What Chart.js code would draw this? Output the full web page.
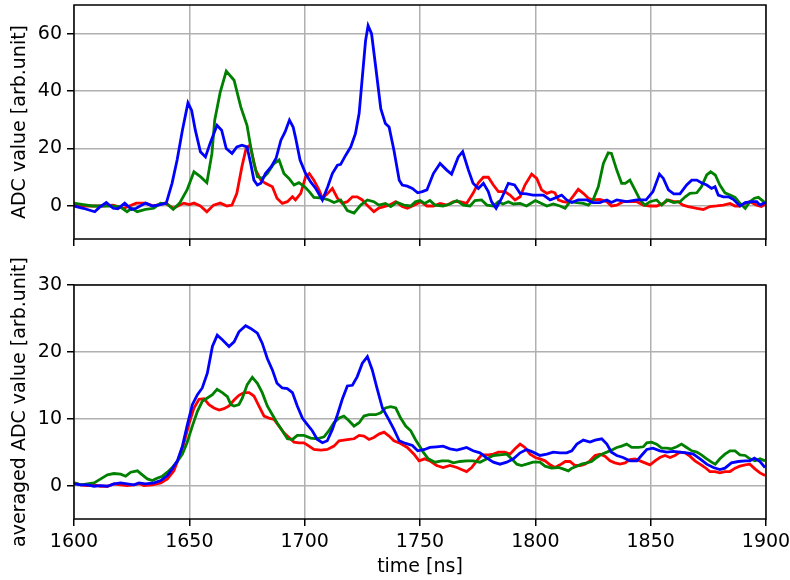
<!DOCTYPE html>
<html>
<head>
<meta charset="utf-8">
<script src="https://cdn.jsdelivr.net/npm/chart.js@4/dist/chart.umd.min.js"></script>
<style>
  html, body { margin: 0; padding: 0; background: #fff; }
  #wrap { position: relative; width: 790px; height: 580px; }
  #rawCanvas { position: absolute; left: 0; top: 0; }
  #avgCanvas { position: absolute; left: 0; top: 250px; }
</style>
</head>
<body>
<div id="wrap">
  <canvas id="rawCanvas" width="790" height="250"></canvas>
  <canvas id="avgCanvas" width="790" height="330"></canvas>
</div>
<script>
// ---- data: [time (ns), ADC value] ----
const rawRed = [[1600,1],[1602,0],[1606,0],[1612,0],[1617,0.3],[1621.6,-0.8],[1627,1],[1631,1],[1634.6,0],[1639.6,1],[1643,-0.8],[1647.6,1],[1650,0.5],[1652,1],[1654.8,0],[1657.6,-2],[1660.5,0.3],[1663.4,1],[1666.3,0],[1668.5,0.3],[1670.6,4.4],[1672.8,13.7],[1674.6,20],[1676.3,21.2],[1678.8,12.5],[1681,9],[1683,7.9],[1686,6.7],[1688,2.7],[1690.3,0.9],[1692.5,1.5],[1694.7,3.2],[1696,2.1],[1698.3,4.4],[1700.4,10.2],[1702,11.3],[1704,9],[1706.2,5.6],[1707.7,2.7],[1710,4.4],[1712,6.1],[1714.2,2.7],[1716.3,0.9],[1718.5,1.5],[1720.7,3.2],[1722.8,3.2],[1725,2.1],[1727,0.3],[1730,-2],[1732,-0.8],[1734.4,-0.2],[1736.6,0.3],[1739.5,1.5],[1742.3,-0.2],[1744.5,-0.8],[1747.4,0.3],[1750.3,1.5],[1753,0],[1755.8,0],[1758.7,0.9],[1761.6,0.3],[1764.5,1.5],[1767.3,1.5],[1770.2,0.9],[1773,4.4],[1775.3,8.1],[1777.5,10],[1779.6,10],[1781.8,7.3],[1784,5],[1786.8,5],[1789,3.8],[1791.2,2.1],[1793.4,3.2],[1795.5,7.3],[1798.4,11.1],[1800.6,9.6],[1802.7,5.6],[1805,4.4],[1807,5],[1808.5,4.6],[1810,2.1],[1812,1.5],[1814.3,1.2],[1816.5,3.5],[1818.6,5.8],[1820.8,4.4],[1823,2.7],[1825,2.1],[1828,2.3],[1831,1.5],[1833,0],[1835.3,0.3],[1838,1.5],[1841,1.5],[1844,1.5],[1846.8,0.3],[1849.7,0],[1852.6,0],[1855.5,0.9],[1857.7,2.1],[1860,1.5],[1862,1.5],[1864,0.3],[1866.3,-0.2],[1870,-0.8],[1872.8,-1.2],[1875.7,-0.2],[1878.6,0],[1881.5,0.3],[1884.4,0.9],[1886.6,0],[1888.7,0],[1891,0.9],[1893,1.5],[1896,0.3],[1898,-0.2],[1900,0.7]];

const rawGreen = [[1600,1],[1604,0.5],[1608,0],[1612,0],[1616,0],[1620,-0.3],[1623,-2],[1625,-0.8],[1627.4,-2],[1631,-1.2],[1634.6,-0.8],[1637.5,1],[1640.4,0.7],[1643,-1.2],[1645.8,1],[1649,5.6],[1652,11.9],[1654.8,10.2],[1657.6,8.1],[1659.8,18.3],[1661,29.9],[1663.4,39.7],[1666,47],[1669.4,43.8],[1672.3,34.5],[1675,28.1],[1676.6,20.6],[1678,14.8],[1679.5,10.2],[1681.6,9.6],[1683.8,11.3],[1686.7,14.8],[1688.9,16],[1691,11.3],[1693.2,9.6],[1695.4,7.3],[1697.5,8.1],[1700,6.7],[1702,5],[1704,3],[1707.7,2.7],[1710.5,2.1],[1712.7,1.2],[1715.6,2.1],[1718.5,-1.6],[1721.4,-2.5],[1724.3,0.3],[1727.2,2.1],[1730,1.5],[1732.2,0.3],[1735,0.9],[1737.3,-0.2],[1740,1.3],[1743,0.3],[1746,0],[1748,1.5],[1750,1.9],[1752,0.9],[1754.3,1.9],[1756.5,0.3],[1760,0],[1763,0.7],[1766,1.9],[1768.8,0.3],[1771.7,0],[1773.8,1.9],[1776.7,2.1],[1779,0.3],[1781.8,0],[1784,1.5],[1786,0.7],[1788.3,1.5],[1790.5,0.7],[1793.4,0.9],[1796.2,0],[1800,1.9],[1802.7,0.9],[1805,0],[1807.8,0.7],[1810.7,0],[1812.9,-0.8],[1815,1.5],[1818,1.2],[1820.8,0.9],[1823,0.3],[1825,2.1],[1827.3,6.7],[1829.5,14.8],[1831.6,18.5],[1833,18.3],[1835.3,12.5],[1837.4,7.9],[1839,7.9],[1841,9],[1843.2,5.6],[1845.4,2.1],[1847.5,0.3],[1849.7,1.5],[1852.6,2.1],[1854.8,0.3],[1857,2.1],[1860,1.2],[1862.7,1.5],[1865,3.2],[1867,4.4],[1870,4.6],[1872,6.7],[1874.3,10.8],[1876,11.9],[1878,10.8],[1880,7.3],[1882.2,4.6],[1884.4,3.8],[1886.6,3],[1888.7,0.9],[1891,-0.8],[1893,1.5],[1895,2.7],[1896.7,3],[1899,1.5],[1900,0.9]];

const rawBlue = [[1600,0],[1604,-0.8],[1609,-2],[1611,-0.5],[1614,1.2],[1617,-0.8],[1619,-1],[1622,1],[1625,-1.2],[1627,-0.8],[1631,1],[1634,0],[1637,0.4],[1640,1],[1642.5,7.9],[1644.7,16],[1647,26.4],[1649.4,35.9],[1651,33.3],[1652.6,26.4],[1654.8,18.9],[1657,17.1],[1659,21.8],[1662,28.1],[1664,26.4],[1666,20],[1668.5,18.3],[1670.6,20.6],[1672.8,21.2],[1675,20.6],[1676.6,14.8],[1678,9],[1679.5,7.3],[1681,7.9],[1683,11.3],[1685.5,13.7],[1687.6,16.6],[1689.7,22.9],[1691.5,25.8],[1693.4,29.9],[1695,27.5],[1696,24],[1698,16],[1700.4,11.3],[1702.6,8.4],[1704.8,6.1],[1707.7,2.1],[1710,6.7],[1712,11.3],[1714.2,14.2],[1715.6,14.5],[1717.8,17.7],[1720,20.6],[1722,25.2],[1723.6,32.2],[1725,44.9],[1726.4,57.6],[1727.5,62.8],[1729,60],[1730.8,48.4],[1733,33.9],[1735,28.7],[1736.6,27.5],[1738.7,19.4],[1741,9],[1742.3,7.3],[1744.5,6.9],[1746.7,6.1],[1749,4.6],[1751,5],[1753,5.6],[1755.8,11.3],[1758.7,14.8],[1761.6,12.5],[1763.7,11.1],[1766.6,17.1],[1768.5,18.9],[1771,12.5],[1773,7.9],[1775.3,6.1],[1777.5,7.9],[1779.6,5],[1781,1.5],[1783,-0.8],[1785.4,2.7],[1788.3,7.9],[1791,7.3],[1793.4,4.4],[1796.2,4.2],[1799,3.8],[1803.5,3.8],[1806.4,2.1],[1809.2,3],[1811.4,3.8],[1813.6,2.1],[1815.8,1.2],[1818.6,2.1],[1822.3,2.1],[1825,1.2],[1828,1.2],[1831,2.1],[1833,1.2],[1835.3,2.1],[1839.6,1.5],[1844,2.1],[1848,2.1],[1851,5],[1853.8,11.1],[1855.5,9.6],[1857.7,5.6],[1860,4.2],[1862.7,4.2],[1865.6,7.3],[1867.8,9],[1870,9],[1872,8.1],[1874.3,7.3],[1876.4,6.1],[1877.9,6.7],[1879.3,3.8],[1881.5,3.2],[1883.7,3.2],[1885.8,2.3],[1888.7,0],[1891,1.2],[1893.8,1.5],[1896,1.5],[1897.4,0.3],[1899.6,1.2]];

const avgRed = [[1600,0.4],[1603,0.1],[1605.8,0],[1608.7,0.1],[1611.6,-0.1],[1614.5,-0.1],[1617.3,0.25],[1620.2,0.1],[1623,0],[1626,0.1],[1628.2,0.3],[1630.3,0],[1634,0.1],[1637.6,0.4],[1640.5,1],[1643.3,2.2],[1645.5,4.2],[1647.7,6.4],[1650,9.4],[1652,11.6],[1654.2,12.9],[1656.4,13],[1658.5,12.1],[1660.7,11.6],[1662.9,11.3],[1665,11.5],[1667.2,11.9],[1669.4,12.8],[1671.5,13.5],[1673.7,13.9],[1675.9,13.9],[1678,13.4],[1680.2,11.9],[1682.4,10.4],[1684.5,10.1],[1686.7,9.9],[1688.9,8.9],[1691,7.9],[1693.2,7.2],[1695.4,6.5],[1697.5,6.4],[1699.7,6.4],[1701.9,5.9],[1704,5.4],[1707,5.3],[1709.8,5.4],[1712.7,5.9],[1714.9,6.7],[1717,6.8],[1719.2,6.9],[1721.4,7],[1723.6,7.5],[1725.7,7.4],[1727.9,6.9],[1730,7.2],[1732.2,7.7],[1734.4,8],[1736.6,7.4],[1738.7,6.7],[1741.6,6.3],[1744.5,5.7],[1747.4,4.7],[1749.6,3.7],[1752,4],[1754.3,3.7],[1757.2,3],[1760,2.7],[1763,3],[1766,2.7],[1768,2.4],[1770.2,2.1],[1772.4,2.7],[1774.6,3.7],[1776.7,4.6],[1779.6,4.6],[1781.8,4.7],[1784,5],[1786.8,5],[1789,4.7],[1791.2,5.5],[1793.4,6.2],[1795.5,5.7],[1797.7,4.7],[1800,4.2],[1802,4],[1804.2,3.7],[1806.4,3.1],[1808.5,2.7],[1810.7,3.1],[1813,3.6],[1815,3.6],[1817.2,3],[1819.4,3],[1821.5,3.2],[1823.7,3.7],[1825.9,4.5],[1828,4.7],[1830.2,4.4],[1832.4,3.7],[1834.5,3.4],[1836.7,3.2],[1838.9,3.4],[1841,3.9],[1843.2,4],[1845.4,3.7],[1847.5,3.4],[1849.7,3.1],[1851.9,3.7],[1854,4.2],[1856.2,4.5],[1858.4,4.2],[1860.5,4.5],[1862.7,5],[1864.9,4.9],[1867,4.4],[1869.2,3.7],[1871.4,3.2],[1873.6,2.7],[1875.7,2.1],[1877.9,2.1],[1880,1.9],[1882.2,2.1],[1884.4,2.1],[1886.6,2.6],[1888.7,2.9],[1891,3.1],[1893,3.2],[1895.2,2.5],[1897.4,1.9],[1899.6,1.5]];

const avgGreen = [[1600,0.4],[1603,0.1],[1605.8,0.25],[1608.7,0.4],[1611.6,1],[1614.5,1.6],[1617.3,1.8],[1620.2,1.7],[1622.4,1.4],[1624.6,2],[1627.5,2.2],[1629.6,1.6],[1631.8,1],[1634,0.75],[1636,1.1],[1638.3,1.4],[1640.5,2],[1642.6,2.7],[1644.8,3.6],[1647,4.7],[1649,6.4],[1651.3,8.9],[1653.5,11.1],[1655.6,12.6],[1657.8,13.1],[1660,13.6],[1662,14.4],[1664.3,13.9],[1666.5,13.3],[1668,12.1],[1669.4,11.9],[1671.5,12.1],[1673,13.1],[1675.1,15.1],[1677.3,16.2],[1679.5,15.3],[1681.6,13.9],[1683.8,11.9],[1686,10.6],[1688,9.4],[1690.3,8.2],[1692.5,7],[1694.7,6.9],[1696.8,7.5],[1699.7,7.5],[1702.6,7.1],[1705.5,7],[1708.4,7.3],[1710.5,8.2],[1712.7,9.4],[1715,10.1],[1717,10.4],[1719.2,9.7],[1721.4,8.9],[1723.6,9.4],[1725.7,10.4],[1727.9,10.6],[1730.8,10.6],[1733,10.9],[1735,11.6],[1737.3,11.8],[1739.5,11.6],[1741.6,10.1],[1743.8,8.9],[1746,8.2],[1748,6.9],[1750,5.8],[1751.4,5],[1753.6,4],[1756.5,3.5],[1759.4,3.7],[1762.3,3.7],[1764.5,3.4],[1767.3,3.6],[1770.2,3.7],[1773,3.7],[1776,3.5],[1779,4],[1781.8,4.5],[1784.7,4.6],[1787.6,4.7],[1789.7,4],[1792,3.2],[1794,3],[1796.2,3.2],[1799,3.5],[1802,3.5],[1804.2,2.9],[1807,2.6],[1810,2.7],[1812,2.5],[1814.3,2.2],[1815.8,2.6],[1818,2.9],[1820,3.2],[1822.3,3.4],[1824.4,3.6],[1826.6,4.2],[1828.8,4.7],[1831,5],[1833,5.3],[1835.3,5.7],[1837.4,5.9],[1839.6,6.2],[1841.8,5.7],[1844.7,5.7],[1846.8,5.8],[1848.3,6.4],[1850.4,6.5],[1852.6,6.2],[1854.8,5.6],[1857,5.6],[1859,5.5],[1861.3,5.8],[1863.4,6.2],[1865.6,5.7],[1867.8,5.2],[1870,5],[1872,4.6],[1874.3,4],[1876.4,3.5],[1878,3.2],[1880,4],[1882.2,4.7],[1884.4,5.2],[1886.6,5.2],[1888.7,4.6],[1891,4.5],[1893,4],[1895.2,3.7],[1897.4,4],[1899.6,3.7]];

const avgBlue = [[1600,0.25],[1603,0.1],[1605.8,0.1],[1608.7,-0.1],[1611.6,0],[1614.5,-0.1],[1617.3,0.25],[1620.2,0.4],[1623,0.25],[1626,0.1],[1628.2,0.4],[1631,0.25],[1634.7,0.4],[1637.6,0.75],[1640.5,1.5],[1642.6,2.5],[1644.8,3.7],[1647,5.9],[1649,8.9],[1651.3,12.1],[1653.5,13.6],[1655.6,14.6],[1657.8,16.8],[1660,20.8],[1662.1,22.5],[1664.3,21.8],[1667.2,20.8],[1669.4,21.5],[1671.5,23],[1674.4,23.9],[1676.6,23.5],[1679.5,22.8],[1681.6,21.3],[1683.8,19],[1686,17.3],[1688,15.3],[1690.3,14.6],[1692.5,14.5],[1694.7,13.9],[1696.8,11.9],[1699,10.1],[1701,9.2],[1703.3,8.2],[1705.5,6.9],[1707.7,6.4],[1709.8,6.7],[1712,8.4],[1714.2,10.6],[1716.3,12.9],[1718.5,14.9],[1720.7,15],[1722.8,16.3],[1725,18.3],[1727.2,19.3],[1729.3,17.3],[1731.5,14.4],[1733.7,11.6],[1736.6,9.8],[1738.7,8.4],[1741,6.7],[1743.8,6.3],[1746.7,6],[1749,5.2],[1752,5.4],[1754.3,5.7],[1757.2,5.8],[1760,5.9],[1763,5.5],[1766,5.3],[1768,5.5],[1770.2,5.7],[1773,5.2],[1776,4.9],[1779,4.1],[1781.8,3.5],[1784.7,3.2],[1787.6,3.5],[1790.5,4],[1793.4,4.9],[1796.2,5.4],[1799,5],[1802,4.5],[1805,4.7],[1807.8,5],[1810.7,4.9],[1813.6,4.9],[1815.8,5.2],[1818,6.2],[1820.8,6.8],[1823.7,6.5],[1825.9,6.8],[1828.8,7],[1831,6.2],[1833,5],[1835.3,4.5],[1838,4.2],[1841,3.7],[1844,3.7],[1846,4.5],[1848.3,5.4],[1851,5.6],[1854,5.2],[1857,5],[1859.8,5.1],[1862.7,5],[1865.6,4.9],[1868.5,4.7],[1871.4,4],[1874.3,3.2],[1877.2,2.7],[1880,2.4],[1882.2,2.6],[1885,3.4],[1888,3.6],[1891,3.7],[1893,3.7],[1895,4.1],[1897.4,3.6],[1899.6,2.7]];

// ---- axes ----
const timeTicks = [1600, 1650, 1700, 1750, 1800, 1850, 1900];
const rawAdcTicks = [0, 20, 40, 60];
const avgAdcTicks = [0, 10, 20, 30];

Chart.defaults.font.family = 'DejaVu Sans';
Chart.defaults.font.size = 19;
Chart.defaults.color = '#000';

const toPoints = arr => arr.map(([t, v]) => ({ x: t, y: v }));

function series(points, color, order) {
  return {
    data: toPoints(points),
    borderColor: color,
    backgroundColor: color,
    borderWidth: 2.8,
    pointRadius: 0,
    tension: 0,
    fill: false,
    order: order
  };
}

// black frame around the plotting area, drawn over the curves
const framePlugin = {
  id: 'frame',
  afterDatasetsDraw(chart) {
    const { ctx, chartArea: a } = chart;
    ctx.save();
    ctx.strokeStyle = '#000';
    ctx.lineWidth = 1.5;
    ctx.strokeRect(a.left, a.top, a.right - a.left, a.bottom - a.top);
    ctx.restore();
  }
};

function buildChart(canvasId, sets, yMin, yMax, yTicks, yTitle, showTimeLabels, padTop, xAxisHeight) {
  return new Chart(document.getElementById(canvasId), {
    type: 'line',
    data: {
      datasets: [
        series(sets[0], '#ff0000', 3),
        series(sets[1], '#008000', 2),
        series(sets[2], '#0000ff', 1)
      ]
    },
    options: {
      responsive: false,
      animation: false,
      layout: { autoPadding: false, padding: { top: padTop, right: 24, left: 0, bottom: 0 } },
      plugins: { legend: { display: false }, tooltip: { enabled: false } },
      scales: {
        x: {
          type: 'linear',
          min: timeTicks[0],
          max: timeTicks[timeTicks.length - 1],
          afterBuildTicks: s => { s.ticks = timeTicks.map(v => ({ value: v })); },
          afterFit: s => { s.height = xAxisHeight; s.paddingLeft = 0; s.paddingRight = 0; },
          border: { display: false },
          grid: { color: '#b0b0b0', lineWidth: 1.5, tickLength: 7, tickColor: '#000', tickWidth: 1.5 },
          ticks: { display: showTimeLabels, padding: 5, maxRotation: 0, autoSkip: false,
                   callback: v => String(v) },
          title: { display: showTimeLabels, text: 'time [ns]', padding: { top: 0, bottom: 2 } }
        },
        y: {
          type: 'linear',
          min: yMin,
          max: yMax,
          afterBuildTicks: s => { s.ticks = yTicks.map(v => ({ value: v })); },
          afterFit: s => { s.width = 74; s.paddingTop = 0; s.paddingBottom = 0; },
          border: { display: false },
          grid: { color: '#b0b0b0', lineWidth: 1.5, tickLength: 7, tickColor: '#000', tickWidth: 1.5 },
          ticks: { padding: 5, autoSkip: false, callback: v => String(v) },
          title: { display: true, text: yTitle, padding: { top: 9, bottom: 0 } }
        }
      }
    },
    plugins: [framePlugin]
  });
}

buildChart('rawCanvas', [rawRed, rawGreen, rawBlue], -11.5, 70, rawAdcTicks,
  'ADC value [arb.unit]', false, 5, 11);
buildChart('avgCanvas', [avgRed, avgGreen, avgBlue], -5, 30, avgAdcTicks,
  'averaged ADC value [arb.unit]', true, 35, 61);
</script>
</body>
</html>
